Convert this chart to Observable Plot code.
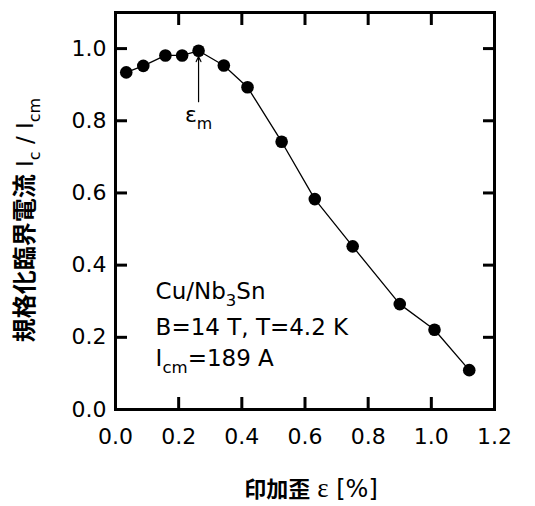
<!DOCTYPE html>
<html><head><meta charset="utf-8">
<script src="https://cdn.jsdelivr.net/npm/d3@7"></script>
<script src="https://cdn.jsdelivr.net/npm/@observablehq/plot@0.6"></script>
<style>body{margin:0;background:#fff}</style>
</head><body><div id="chart"></div>
<script>
// Data
const strain = [0.034, 0.088, 0.158, 0.211, 0.263, 0.343, 0.418, 0.526, 0.631, 0.751, 0.900, 1.010, 1.120];
const normIc = [0.934, 0.952, 0.981, 0.981, 0.994, 0.953, 0.893, 0.742, 0.583, 0.452, 0.292, 0.221, 0.109];
const xTicks = [0, 0.2, 0.4, 0.6, 0.8, 1.0, 1.2];
const yTicks = [0, 0.2, 0.4, 0.6, 0.8, 1.0];
const epsMax = 0.263;          // strain at peak (arrow position)
const arrowFrom = 0.853, arrowTo = 0.978;
const noteLines = ["Cu/Nb3Sn", "B=14 T, T=4.2 K", "Icm=189 A"];
const yLabelText = "規格化臨界電流 Ic / Icm";
const xLabelText = "印加歪 ε [%]";
const epsLabelText = "εm";

// rich-text specs: [text, style, absolute font size (optional)]
const SANS = "DejaVu Sans", CJK = "'Noto Sans CJK JP'", SERIF = "'Liberation Serif'";
const rich = {
  "Cu/Nb3Sn": [["Cu/Nb"], ["3", "sub"], ["Sn"]],
  "Icm=189 A": [["I"], ["cm", "sub"], ["=189 A"]],
  "εm": [["ε"], ["m", "sub"]],
  "規格化臨界電流 Ic / Icm": [["規格化臨界電流", "cjk", 24], [" I", null, 23], ["c", "sub", 16], [" / I", null, 23], ["cm", "sub", 16]],
  "印加歪 ε [%]": [["印加歪", "cjk", 22], [" ", null, 22], ["ε", "serif", 27], [" [%]", null, 24]]
};

const data = strain.map((x, i) => ({x, y: normIc[i]}));
const fmt = d3.format(".1f");

const chart = Plot.plot({
  width: 535, height: 506,
  marginLeft: 115, marginRight: 41, marginTop: 12, marginBottom: 97,
  x: {domain: [0, 1.2]},
  y: {domain: [0, 1.1]},
  style: {fontFamily: SANS, fontSize: "22px", color: "#000", background: "#fff"},
  marks: [
    Plot.axisX(xTicks, {anchor: "bottom", tickSize: -12, tickPadding: 31, tickFormat: fmt, strokeWidth: 3, label: null, fontSize: 22}),
    Plot.axisX(xTicks, {anchor: "top", tickSize: -12, tickFormat: () => "", strokeWidth: 3, label: null}),
    Plot.axisY(yTicks, {anchor: "left", tickSize: -12, tickPadding: 21, tickFormat: fmt, strokeWidth: 3, label: null, fontSize: 22}),
    Plot.axisY(yTicks, {anchor: "right", tickSize: -12, tickFormat: () => "", strokeWidth: 3, label: null}),
    Plot.frame({stroke: "#000", strokeWidth: 3}),
    Plot.line(data, {x: "x", y: "y", stroke: "#000", strokeWidth: 1.3}),
    Plot.dot(data, {x: "x", y: "y", r: 6.3, fill: "#000", stroke: "none"}),
    Plot.arrow([{x: epsMax, y1: arrowFrom, y2: arrowTo}], {x: "x", y1: "y1", y2: "y2", stroke: "#000", strokeWidth: 1.2, headLength: 7, headAngle: 50}),
    Plot.text([epsLabelText], {x: epsMax, y: 0.815, text: d => d, textAnchor: "middle", lineAnchor: "middle", fontSize: 22}),
    Plot.text([noteLines[0]], {x: 0.127, y: 0.326, text: d => d, textAnchor: "start", lineAnchor: "middle", fontSize: 23}),
    Plot.text([noteLines[1]], {x: 0.127, y: 0.227, text: d => d, textAnchor: "start", lineAnchor: "middle", fontSize: 23}),
    Plot.text([noteLines[2]], {x: 0.127, y: 0.141, text: d => d, textAnchor: "start", lineAnchor: "middle", fontSize: 23}),
    Plot.text([yLabelText], {frameAnchor: "left", dx: -90, dy: 9, rotate: -90, text: d => d, textAnchor: "middle", lineAnchor: "middle", fontSize: 23}),
    Plot.text([xLabelText], {frameAnchor: "bottom", dx: 6, dy: 80, text: d => d, textAnchor: "middle", lineAnchor: "middle", fontSize: 22})
  ]
});

// apply rich text (subscripts, mixed fonts)
d3.select(chart).selectAll("text").each(function () {
  const el = d3.select(this);
  const key = this.textContent;
  const spec = rich[key];
  if (!spec) return;
  const base = parseFloat(this.getAttribute("font-size") || this.parentNode.getAttribute("font-size") || 22);
  el.text(null);
  let shifted = 0;
  for (const [t, s, size] of spec) {
    const ts = el.append("tspan").text(t);
    if (s === "sub") {
      const d = 0.3 * base;
      ts.attr("font-size", size || 0.72 * base).attr("dy", d - shifted);
      shifted = d;
    } else {
      if (shifted) { ts.attr("dy", -shifted); shifted = 0; }
      if (size) ts.attr("font-size", size);
      if (s === "cjk") ts.attr("font-family", CJK).attr("font-weight", "bold");
      if (s === "serif") ts.attr("font-family", SERIF);
    }
  }
});

document.getElementById("chart").append(chart);
</script>
</body></html>
